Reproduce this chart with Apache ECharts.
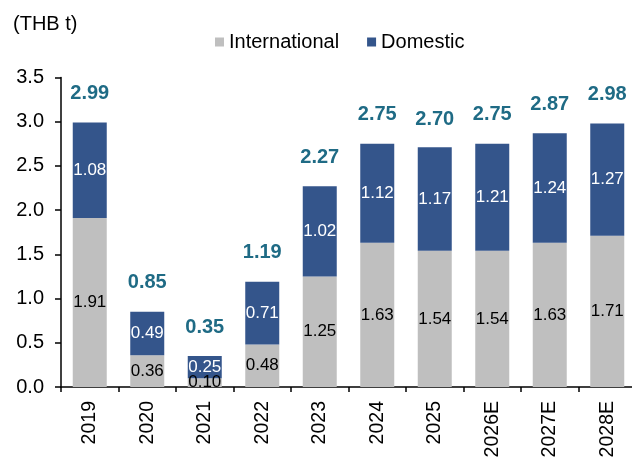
<!DOCTYPE html>
<html>
<head>
<meta charset="utf-8">
<script src="https://cdn.jsdelivr.net/npm/echarts@6/dist/echarts.min.js"></script>
<style>html,body{margin:0;padding:0;background:#fff}#c{width:632px;height:457px}</style>
</head>
<body>
<div id="c"></div>
<script>
var categories = ['2019','2020','2021','2022','2023','2024','2025','2026E','2027E','2028E'];
var international = [1.91,0.36,0.10,0.48,1.25,1.63,1.54,1.54,1.63,1.71];
var domestic = [1.08,0.49,0.25,0.71,1.02,1.12,1.17,1.21,1.24,1.27];
var totals = [2.99,0.85,0.35,1.19,2.27,2.75,2.70,2.75,2.87,2.98];
var yTicks = [0,0.5,1.0,1.5,2.0,2.5,3.0,3.5];

var font = 'Liberation Sans, Arial, sans-serif';
var chart = echarts.init(document.getElementById('c'), null, {renderer:'canvas'});
chart.setOption({
  animation:false,
  textStyle:{fontFamily:font},
  title:{text:'(THB t)', left:8, top:9, textStyle:{fontSize:20, fontWeight:'normal', color:'#000', fontFamily:font}},
  legend:{
    data:['International','Domestic'],
    top:27, left:210,
    itemWidth:9, itemHeight:9, itemGap:28,
    icon:'rect',
    textStyle:{fontSize:20, color:'#000', fontFamily:font, padding:[0,0,0,0]}
  },
  grid:{left:61, top:77.5, width:575, bottom:70, containLabel:false, outerBoundsMode:'none'},
  xAxis:{
    type:'category', data:categories,
    axisLine:{lineStyle:{color:'#000', width:1.5}},
    axisTick:{show:true, length:5, lineStyle:{color:'#000', width:1.5}},
    axisLabel:{rotate:90, margin:14, fontSize:19.5, color:'#000', fontFamily:font}
  },
  yAxis:{
    type:'value', min:0, max:3.5, interval:0.5,
    axisLine:{show:true, lineStyle:{color:'#000', width:1.5}},
    axisTick:{show:true, length:6, lineStyle:{color:'#000', width:1.5}},
    splitLine:{show:false},
    axisLabel:{margin:17, fontSize:20, color:'#000', fontFamily:font,
      formatter:function(v){return v.toFixed(1);}}
  },
  series:[
    {name:'International', type:'bar', stack:'a', barWidth:34, data:international,
     itemStyle:{color:'#bfbfbf'},
     label:{show:true, position:'inside', fontSize:17, color:'#000', fontFamily:font,
       formatter:function(p){return p.value.toFixed(2);}}},
    {name:'Domestic', type:'bar', stack:'a', barWidth:34, data:domestic,
     itemStyle:{color:'#34558b'},
     label:{show:true, position:'inside', fontSize:17, color:'#fff', fontFamily:font,
       formatter:function(p){return p.value.toFixed(2);}}},
    {name:'Total', type:'bar', barWidth:34, barGap:'-100%', data:totals, z:1,
     itemStyle:{color:'rgba(0,0,0,0)'},
     label:{show:true, position:'top', distance:19, fontSize:20, fontWeight:'bold', color:'#1f6b85', fontFamily:font,
       formatter:function(p){return p.value.toFixed(2);}}}
  ]
});
</script>
</body>
</html>
